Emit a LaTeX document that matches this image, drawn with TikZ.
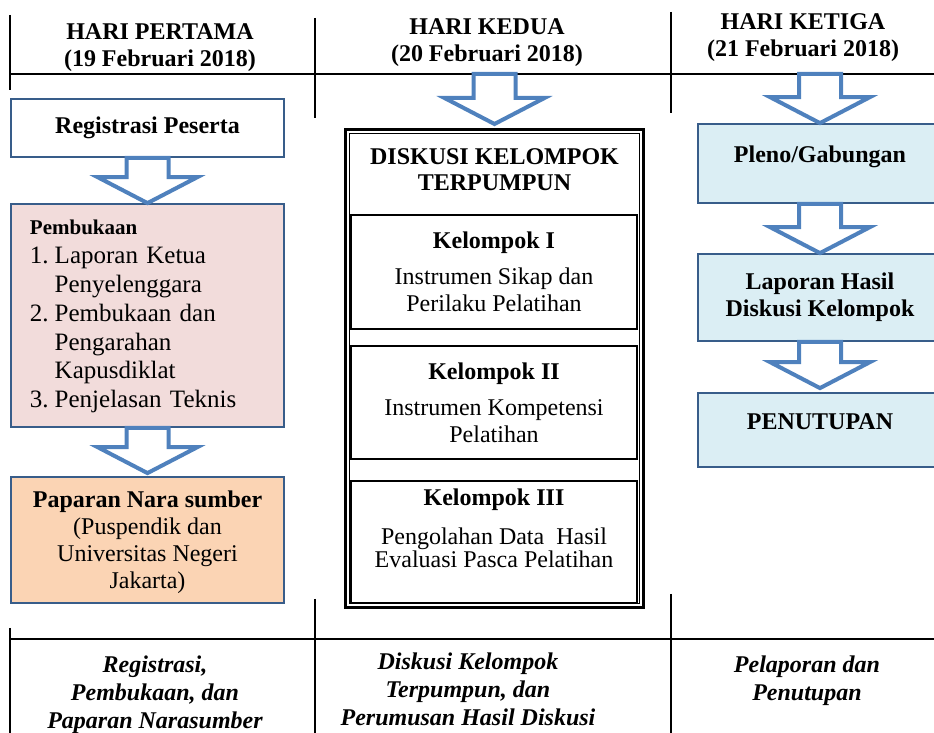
\documentclass[tikz,border=0pt]{standalone}
\usepackage{fontspec}
\setmainfont{Liberation Serif}
\usetikzlibrary{calc}

\definecolor{flowblue}{RGB}{79,129,189}
\definecolor{edgeblue}{RGB}{56,93,138}
\definecolor{pinkfill}{RGB}{242,220,219}
\definecolor{peachfill}{RGB}{251,212,180}
\definecolor{skyfill}{RGB}{219,238,244}

% block arrow from one node to the next, optional gap above the tip
\newcommand{\flowarrow}[3][0]{%
  \draw[flow] let \p1=(#2), \p2=(#3) in
    (\x2-10.5pt,\y1) -- (\x2+10.5pt,\y1) -- (\x2+10.5pt,\y2+#1pt+13pt)
    -- (\x2+25pt,\y2+#1pt+13pt) -- (\x2,\y2+#1pt)
    -- (\x2-25pt,\y2+#1pt+13pt) -- (\x2-10.5pt,\y2+#1pt+13pt) -- cycle;
}

\tikzset{
  flow/.style={draw=flowblue, line width=2pt, fill=white},
  rule/.style={line width=0.8pt},
  plainbox/.style={draw=edgeblue, line width=0.9pt, inner sep=0pt, align=center,
    font=\fontsize{12}{13.5}\selectfont},
  leftbox/.style={plainbox, minimum width=136.5pt},
  rightbox/.style={plainbox, fill=skyfill, minimum width=122pt,
    font=\fontsize{12}{13.5}\selectfont\bfseries},
  teambox/.style={draw, line width=1pt, inner sep=0pt, minimum width=143pt,
    align=center, font=\fontsize{12}{13.5}\selectfont},
  dayhead/.style={align=center, font=\fontsize{12}{13.5}\selectfont\bfseries},
  dayfoot/.style={align=center, font=\fontsize{12}{14}\selectfont\bfseries\itshape},
}

\begin{document}
\begin{tikzpicture}[x=0.5pt, y=-0.5pt]

            % the frame
            \useasboundingbox (0,0) rectangle (934,733);
            \path[clip] (0,0) rectangle (934,733);

            % the table
            \draw[rule] (10,74) -- (934,74);
            \draw[rule] (10,639) -- (934,639);
            \foreach \x/\a/\b/\c in {10/15/90/628, 315/18/118/599, 671/12/113/594} {
                \draw[rule] (\x,\a) -- (\x,\b);
                \draw[rule] (\x,\c) -- (\x,733);
            };

            % heads
            \node[dayhead] (day1) at (160,47.7) {HARI PERTAMA\\(19 Februari 2018)};
            \node[dayhead] (day2) at (487,42.5) {HARI KEDUA\\(20 Februari 2018)};
            \node[dayhead] (day3) at (803,37.7) {HARI KETIGA\\(21 Februari 2018)};

            % first day
            \node[leftbox, minimum height=29pt, font=\fontsize{12}{13.5}\selectfont\bfseries] (reg) at (147.5,128) {Registrasi Peserta};
            \node[leftbox, fill=pinkfill, minimum height=111.5pt, text width=117.5pt, inner xsep=9.5pt, align=left, font=\fontsize{12.5}{14.4}\selectfont] (open) at (147.5,315.5) {%
                \begin{tabular}{@{}l@{\hspace{3pt}}l@{}}
                \multicolumn{2}{@{}l@{}}{\fontsize{10.5}{12}\selectfont\bfseries Pembukaan}\\
                1. & Laporan Ketua\\
                   & Penyelenggara\\
                2. & Pembukaan dan\\
                   & Pengarahan\\
                   & Kapusdiklat\\
                3. & Penjelasan Teknis
                \end{tabular}};
            \node[leftbox, fill=peachfill, minimum height=63pt, text depth=0pt] (talk) at (147.5,540) {\textbf{Paparan Nara sumber}\\(Puspendik dan\\Universitas Negeri\\Jakarta)};

            % second day
            \node[draw, line width=1.5pt, outer sep=0pt, minimum width=149pt, minimum height=239pt] (fgd) at (494.5,369) {};
            \draw[line width=0.5pt] ([shift={(4,4)}]fgd.north west) rectangle ([shift={(-4,-4)}]fgd.south east);
            \node[dayhead, font=\fontsize{12}{13}\selectfont\bfseries] (fgdtitle) at (494.5,170) {DISKUSI KELOMPOK\\TERPUMPUN};
            \node[teambox, minimum height=57pt] (team1) at (494,272) {\textbf{Kelompok I}\\[4.5pt]Instrumen Sikap dan\\Perilaku Pelatihan};
            \node[teambox, minimum height=56.5pt] (team2) at (494,402.5) {\textbf{Kelompok II}\\[4.5pt]Instrumen Kompetensi\\Pelatihan};
            \node[teambox, minimum height=61pt, text depth=14.2pt] (team3) at (494,542) {\textbf{Kelompok III}\\[6pt]Pengolahan Data\ \ Hasil\\[-2pt]Evaluasi Pasca Pelatihan};

            % third day
            \node[rightbox, minimum height=39.5pt, text depth=9.8pt] (pleno) at (820,163.5) {Pleno/Gabungan};
            \node[rightbox, minimum height=43.5pt] (lap) at (820,297.5) {Laporan Hasil\\Diskusi Kelompok};
            \node[rightbox, minimum height=37pt, text depth=8pt] (tutup) at (820,430) {PENUTUPAN};

            % arrows
            \coordinate (in2) at (494.5,74);
            \coordinate (in3) at (820,74);
            \flowarrow{reg.south}{open.north}
            \flowarrow[1.5]{open.south}{talk.north}
            \flowarrow[3]{in2}{fgd.north}
            \flowarrow{in3}{pleno.north}
            \flowarrow{pleno.south}{lap.north}
            \flowarrow[2]{lap.south}{tutup.north}

            % feet
            \node[dayfoot] (sum1) at (155,694.5) {Registrasi,\\Pembukaan, dan\\Paparan Narasumber};
            \node[dayfoot] (sum2) at (468,689) {Diskusi Kelompok\\Terpumpun, dan\\Perumusan Hasil Diskusi};
            \node[dayfoot] (sum3) at (807,680.4) {Pelaporan dan\\Penutupan};
        \end{tikzpicture}
\end{document}
